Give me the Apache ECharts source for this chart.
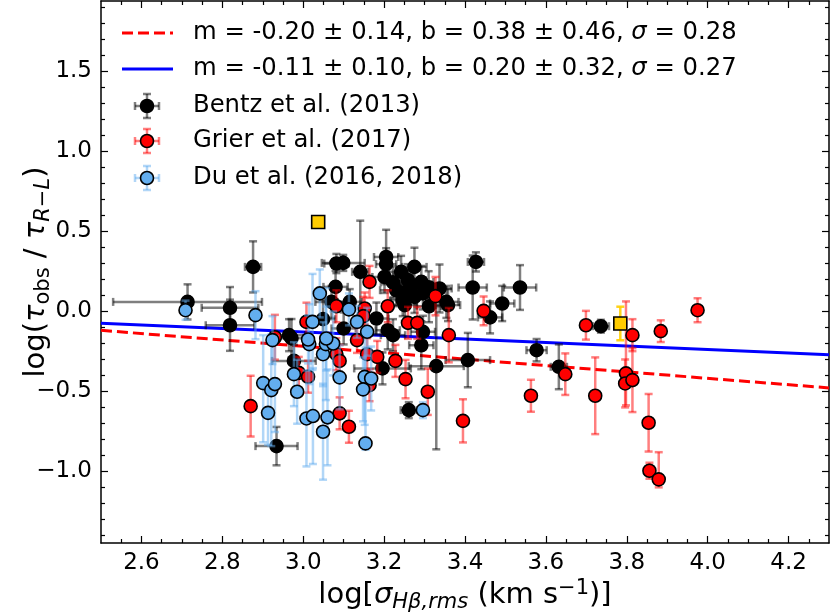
<!DOCTYPE html>
<html>
<head>
<meta charset="utf-8">
<script src="https://cdn.jsdelivr.net/npm/echarts@6/dist/echarts.min.js"></script>
<style>
  html, body { margin: 0; padding: 0; background: #fff; }
  #chart { width: 830px; height: 613px; }
</style>
</head>
<body>
<div id="chart"></div>
<script>
// Bentz et al. (2013): [log sigma, log ratio, xerr, yerr]
const bentz = [
  [2.714, 0.058, 0.184, 0.11],
  [2.819, 0.021, 0.07, 0.13],
  [2.819, -0.088, 0.06, 0.16],
  [2.876, 0.277, 0.02, 0.16],
  [2.934, -0.844, 0.052, 0.12],
  [2.965, -0.15, 0.04, 0.1],
  [2.971, -0.169, 0.03, 0.12],
  [2.977, -0.311, 0.054, 0.1],
  [3.049, -0.05, 0.03, 0.12],
  [3.082, 0.298, 0.03, 0.06],
  [3.099, 0.302, 0.053, 0.05],
  [3.141, 0.246, 0.02, 0.32],
  [3.080, 0.152, 0.03, 0.1],
  [3.070, 0.058, 0.04, 0.1],
  [3.115, 0.058, 0.03, 0.08],
  [3.100, -0.108, 0.03, 0.1],
  [3.205, 0.339, 0.03, 0.17],
  [3.205, 0.294, 0.025, 0.1],
  [3.201, 0.214, 0.03, 0.1],
  [3.242, 0.246, 0.03, 0.1],
  [3.275, 0.277, 0.03, 0.12],
  [3.230, 0.131, 0.04, 0.1],
  [3.259, 0.194, 0.03, 0.1],
  [3.292, 0.183, 0.03, 0.1],
  [3.246, 0.069, 0.03, 0.1],
  [3.275, 0.089, 0.03, 0.1],
  [3.296, 0.111, 0.03, 0.1],
  [3.337, 0.142, 0.03, 0.15],
  [3.354, 0.058, 0.03, 0.1],
  [3.311, 0.031, 0.03, 0.1],
  [3.181, -0.046, 0.03, 0.1],
  [3.209, -0.119, 0.03, 0.12],
  [3.296, -0.129, 0.03, 0.1],
  [3.427, 0.308, 0.02, 0.06],
  [3.419, 0.148, 0.035, 0.2],
  [3.536, 0.148, 0.04, 0.14],
  [3.492, 0.048, 0.03, 0.11],
  [3.462, -0.039, 0.03, 0.1],
  [3.358, 0.038, 0.03, 0.1],
  [3.329, -0.344, 0.068, 0.52],
  [3.407, -0.306, 0.055, 0.17],
  [3.577, -0.244, 0.025, 0.07],
  [3.632, -0.348, 0.02, 0.14],
  [3.261, -0.619, 0.02, 0.05],
  [3.196, -0.358, 0.07, 0.1],
  [3.292, -0.213, 0.03, 0.15],
  [3.222, -0.15, 0.03, 0.1],
  [3.736, -0.094, 0.02, 0.04],
  [3.255, 0.121, 0.03, 0.1],
  [3.251, 0.038, 0.03, 0.1],
  [3.222, 0.180, 0.03, 0.1],
  [3.268, 0.160, 0.03, 0.1],
  [3.310, 0.150, 0.03, 0.1]
];

// Grier et al. (2017): [x, y, yerr low, yerr high]
const grier = [
  [2.870, -0.594, 0.19, 0.19],
  [2.930, -0.163, 0.14, 0.14],
  [2.989, -0.386, 0.1, 0.1],
  [3.012, -0.41, 0.1, 0.1],
  [3.008, -0.067, 0.12, 0.12],
  [3.082, -0.269, 0.1, 0.1],
  [3.090, -0.311, 0.1, 0.1],
  [3.133, -0.181, 0.08, 0.08],
  [3.158, -0.269, 0.1, 0.1],
  [3.183, -0.286, 0.1, 0.1],
  [3.164, -0.463, 0.1, 0.1],
  [3.090, -0.639, 0.1, 0.1],
  [3.113, -0.723, 0.1, 0.1],
  [3.164, 0.183, 0.1, 0.1],
  [3.082, 0.031, 0.1, 0.1],
  [3.152, 0.017, 0.1, 0.1],
  [3.149, -0.031, 0.12, 0.12],
  [3.209, 0.031, 0.1, 0.1],
  [3.259, -0.073, 0.1, 0.1],
  [3.282, -0.073, 0.1, 0.1],
  [3.327, 0.094, 0.12, 0.12],
  [3.360, -0.150, 0.17, 0.17],
  [3.228, -0.311, 0.1, 0.1],
  [3.253, -0.425, 0.12, 0.12],
  [3.308, -0.504, 0.145, 0.145],
  [3.395, -0.686, 0.135, 0.135],
  [3.446, 0.002, 0.09, 0.09],
  [3.563, -0.529, 0.1, 0.1],
  [3.648, -0.394, 0.13, 0.13],
  [3.699, -0.088, 0.09, 0.09],
  [3.722, -0.529, 0.24, 0.24],
  [3.798, -0.389, 0.2, 0.45],
  [3.796, -0.452, 0.15, 0.15],
  [3.814, -0.431, 0.2, 0.2],
  [3.814, -0.150, 0.1, 0.1],
  [3.884, -0.125, 0.068, 0.068],
  [3.975, 0.006, 0.075, 0.075],
  [3.854, -0.698, 0.18, 0.18],
  [3.856, -0.998, 0.05, 0.05],
  [3.879, -1.052, 0.05, 0.17]
];

// Du et al. (2016, 2018): [x, y, yerr low, yerr high]
const du = [
  [2.709, 0.006, 0.06, 0.06],
  [2.882, -0.025, 0.15, 0.15],
  [2.901, -0.45, 0.37, 0.3],
  [2.921, -0.494, 0.35, 0.35],
  [2.930, -0.456, 0.3, 0.3],
  [2.913, -0.636, 0.2, 0.2],
  [2.924, -0.181, 0.15, 0.15],
  [2.977, -0.394, 0.2, 0.2],
  [2.985, -0.504, 0.2, 0.2],
  [3.015, -0.206, 0.25, 0.25],
  [3.023, -0.067, 0.3, 0.3],
  [3.041, 0.111, 0.15, 0.15],
  [3.008, -0.671, 0.3, 0.3],
  [3.024, -0.656, 0.3, 0.3],
  [3.049, -0.754, 0.3, 0.3],
  [3.060, -0.664, 0.3, 0.3],
  [3.049, -0.269, 0.2, 0.2],
  [3.056, -0.206, 0.35, 0.35],
  [3.074, -0.202, 0.2, 0.2],
  [3.090, -0.414, 0.2, 0.2],
  [3.152, -0.411, 0.3, 0.3],
  [3.168, -0.421, 0.2, 0.2],
  [3.148, -0.489, 0.2, 0.2],
  [3.154, -0.827, 0.04, 0.6],
  [3.113, 0.011, 0.1, 0.1],
  [3.133, -0.067, 0.1, 0.1],
  [3.158, -0.129, 0.15, 0.15],
  [3.057, -0.171, 0.2, 0.2],
  [3.012, -0.177, 0.15, 0.15],
  [3.296, -0.619, 0.05, 0.05]
];

// highlighted objects (yellow squares): [x, y, yerr low, yerr high]
const special = [
  [3.037, 0.558, 0, 0],
  [3.784, -0.077, 0.105, 0.105]
];

// fit lines, end points
const fitX = [2.5, 4.3];
const fitRedY = [-0.12, -0.48];
const fitBlueY = [-0.075, -0.273];

const legendLabels = [
  'm = -0.20 ± 0.14, b = 0.38 ± 0.46, {i|σ} = 0.28',
  'm = -0.11 ± 0.10, b = 0.20 ± 0.32, {i|σ} = 0.27',
  'Bentz et al. (2013)',
  'Grier et al. (2017)',
  'Du et al. (2016, 2018)'
];

const xMajor = [2.6, 2.8, 3.0, 3.2, 3.4, 3.6, 3.8, 4.0, 4.2];
const yMajor = [-1.0, -0.5, 0.0, 0.5, 1.0, 1.5];
const xMinor = [];
for (let i = 51; i <= 85; i++) { if (i % 4 !== 0) xMinor.push(i * 0.05); }
const yMinor = [];
for (let i = -14; i <= 19; i++) { if (i % 5 !== 0) yMinor.push(i * 0.1); }

const FONT = 'DejaVu Sans';
const BLUE_DU = '#63aeef';

function fmt(v) { return v.toFixed(1).replace('-', '\u2212'); }

function axis(kind, position, ticks, len, main) {
  const isX = kind === 'x';
  return {
    type: 'value',
    position,
    offset: 0,
    min: isX ? 2.5 : -1.45,
    max: isX ? 4.3 : 1.94,
    nameMoveOverlap: false,
    splitLine: { show: false },
    axisLine: { show: main, onZero: false, lineStyle: { color: '#000', width: 1.5 } },
    axisTick: { show: true, inside: true, length: len, customValues: ticks, lineStyle: { color: '#000', width: 1.2 } },
    axisLabel: {
      show: main && (position === 'bottom' || position === 'left'),
      customValues: ticks,
      formatter: fmt,
      color: '#000',
      fontFamily: FONT,
      fontSize: 23,
      margin: 9
    }
  };
}

function errorBars(data, color, z) {
  return {
    type: 'custom',
    z,
    silent: true,
    xAxisIndex: 0,
    yAxisIndex: 0,
    data,
    encode: { x: 0, y: 1 },
    renderItem(params, api) {
      const x = api.value(0), y = api.value(1);
      const xe = api.value(2), ylo = api.value(3), yhi = api.value(4);
      const style = { stroke: color, lineWidth: 2.5 };
      const cap = 4;
      const kids = [];
      const seg = (x1, y1, x2, y2) => kids.push({ type: 'line', shape: { x1, y1, x2, y2 }, style });
      if (ylo > 0 || yhi > 0) {
        const a = api.coord([x, y + yhi]);
        const b = api.coord([x, y - ylo]);
        seg(a[0], a[1], b[0], b[1]);
        seg(a[0] - cap, a[1], a[0] + cap, a[1]);
        seg(b[0] - cap, b[1], b[0] + cap, b[1]);
      }
      if (xe > 0) {
        const a = api.coord([x - xe, y]);
        const b = api.coord([x + xe, y]);
        seg(a[0], a[1], b[0], b[1]);
        seg(a[0], a[1] - cap, a[0], a[1] + cap);
        seg(b[0], b[1] - cap, b[0], b[1] + cap);
      }
      return { type: 'group', children: kids };
    }
  };
}

function points(name, data, color, z, symbol) {
  return {
    type: 'scatter',
    name,
    z,
    xAxisIndex: 0,
    yAxisIndex: 0,
    symbol: symbol || 'circle',
    symbolSize: 13,
    data: data.map(d => [d[0], d[1]]),
    itemStyle: { color, borderColor: '#000', borderWidth: 1.6, opacity: 1 }
  };
}

// legend drawn as plain graphics
const legendRows = [33, 69, 106, 141, 178];
const legendMarks = [
  { fill: '#000', bar: 'rgba(0,0,0,0.5)' },
  { fill: '#ff0000', bar: 'rgba(255,0,0,0.5)' },
  { fill: BLUE_DU, bar: 'rgba(99,174,239,0.5)' }
];
const legendGraphics = [];
legendGraphics.push({ type: 'line', shape: { x1: 122, y1: legendRows[0], x2: 173, y2: legendRows[0] },
  style: { stroke: '#ff0000', lineWidth: 3, lineDash: [11, 5] } });
legendGraphics.push({ type: 'line', shape: { x1: 122, y1: legendRows[1], x2: 173, y2: legendRows[1] },
  style: { stroke: '#0000ff', lineWidth: 3 } });
legendMarks.forEach((m, i) => {
  const cy = legendRows[i + 2], cx = 147;
  const st = { stroke: m.bar, lineWidth: 2.5 };
  legendGraphics.push({ type: 'line', shape: { x1: cx - 12, y1: cy, x2: cx + 12, y2: cy }, style: st });
  legendGraphics.push({ type: 'line', shape: { x1: cx, y1: cy - 12, x2: cx, y2: cy + 12 }, style: st });
  legendGraphics.push({ type: 'line', shape: { x1: cx - 12, y1: cy - 4, x2: cx - 12, y2: cy + 4 }, style: st });
  legendGraphics.push({ type: 'line', shape: { x1: cx + 12, y1: cy - 4, x2: cx + 12, y2: cy + 4 }, style: st });
  legendGraphics.push({ type: 'line', shape: { x1: cx - 4, y1: cy - 12, x2: cx + 4, y2: cy - 12 }, style: st });
  legendGraphics.push({ type: 'line', shape: { x1: cx - 4, y1: cy + 12, x2: cx + 4, y2: cy + 12 }, style: st });
  legendGraphics.push({ type: 'circle', shape: { cx, cy, r: 6.5 }, style: { fill: m.fill, stroke: '#000', lineWidth: 1.6 } });
});
legendLabels.forEach((t, i) => {
  legendGraphics.push({
    type: 'text', x: 193, y: legendRows[i],
    style: {
      text: t, fill: '#000', font: '24.3px "DejaVu Sans"', verticalAlign: 'middle', align: 'left',
      rich: { i: { fontStyle: 'italic', fontSize: 24.3, fontFamily: FONT } }
    }
  });
});

const xAxes = [
  axis('x', 'bottom', xMajor, 7, true),
  axis('x', 'bottom', xMinor, 4, false),
  axis('x', 'top', xMajor, 7, true),
  axis('x', 'top', xMinor, 4, false)
];
xAxes[0].name = 'log[{i|σ}{sub|Hβ,rms} (km s{sup|\u22121})]';
xAxes[0].nameLocation = 'middle';
xAxes[0].nameGap = 35;
xAxes[0].nameTextStyle = {
  color: '#000', fontFamily: FONT, fontSize: 29,
  rich: {
    i: { fontStyle: 'italic', fontSize: 29, fontFamily: FONT },
    sub: { fontStyle: 'italic', fontSize: 21, fontFamily: FONT, padding: [14, 0, 0, 0] },
    sup: { fontSize: 21, fontFamily: FONT, padding: [0, 0, 13, 0] }
  }
};

const yAxes = [
  axis('y', 'left', yMajor, 7, true),
  axis('y', 'left', yMinor, 4, false),
  axis('y', 'right', yMajor, 7, true),
  axis('y', 'right', yMinor, 4, false)
];
yAxes[0].name = 'log({i|τ}{sub|obs} / {i|τ}{subi|R\u2212L})';
yAxes[0].nameLocation = 'middle';
yAxes[0].nameRotate = 90;
yAxes[0].nameGap = 47;
yAxes[0].nameTextStyle = {
  color: '#000', fontFamily: FONT, fontSize: 29,
  rich: {
    i: { fontStyle: 'italic', fontSize: 29, fontFamily: FONT },
    sub: { fontSize: 21, fontFamily: FONT, padding: [14, 0, 0, 0] },
    subi: { fontStyle: 'italic', fontSize: 21, fontFamily: FONT, padding: [14, 0, 0, 0] }
  }
};

const chart = echarts.init(document.getElementById('chart'), null, { renderer: 'canvas' });
chart.setOption({
  animation: false,
  backgroundColor: '#fff',
  textStyle: { fontFamily: FONT },
  grid: { left: 101, right: 1, top: 1, bottom: 70, containLabel: false, outerBoundsMode: 'none' },
  xAxis: xAxes,
  yAxis: yAxes,
  graphic: legendGraphics,
  series: [
    {
      type: 'line', z: 1, symbol: 'none', silent: true,
      data: fitX.map((x, i) => [x, fitRedY[i]]),
      lineStyle: { color: '#ff0000', width: 3, type: [11, 5] }
    },
    {
      type: 'line', z: 1, symbol: 'none', silent: true,
      data: fitX.map((x, i) => [x, fitBlueY[i]]),
      lineStyle: { color: '#0000ff', width: 3 }
    },
    errorBars(bentz.map(d => [d[0], d[1], d[2], d[3], d[3]]), 'rgba(0,0,0,0.5)', 2),
    points('Bentz et al. (2013)', bentz, '#000', 3),
    errorBars(grier.map(d => [d[0], d[1], 0, d[2], d[3]]), 'rgba(255,0,0,0.5)', 4),
    points('Grier et al. (2017)', grier, '#ff0000', 5),
    errorBars(du.map(d => [d[0], d[1], 0, d[2], d[3]]), 'rgba(99,174,239,0.5)', 6),
    points('Du et al. (2016, 2018)', du, BLUE_DU, 7),
    errorBars(special.map(d => [d[0], d[1], 0, d[2], d[3]]), 'rgba(255,205,0,0.9)', 8),
    points('special', special, '#ffcc00', 9, 'rect')
  ]
});
</script>
</body>
</html>
